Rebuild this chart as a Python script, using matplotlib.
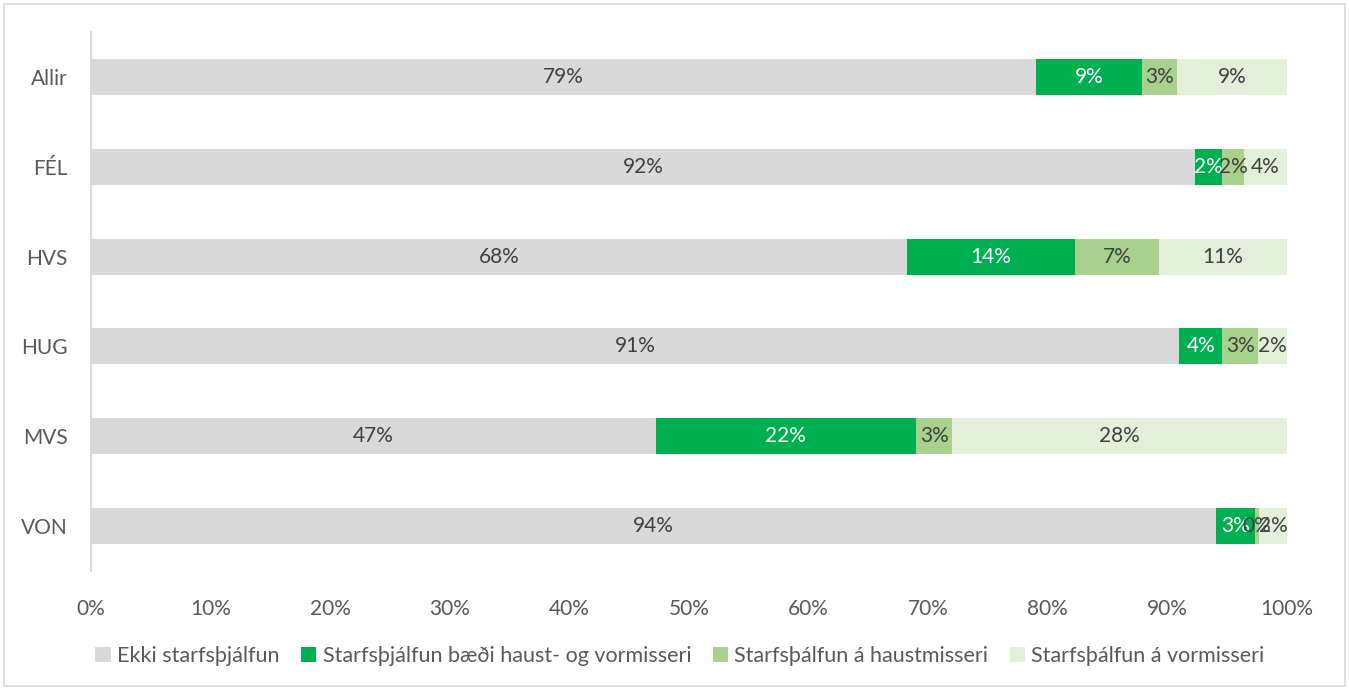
import numpy as np
import matplotlib.pyplot as plt
from matplotlib.patches import Rectangle

plt.rcParams['font.family'] = ['Lato', 'DejaVu Sans']

# data
categories = ['Allir', 'FÉL', 'HVS', 'HUG', 'MVS', 'VON']
series_names = ['Ekki starfsþjálfun',
                'Starfsþjálfun bæði haust- og vormisseri',
                'Starfsþálfun á haustmisseri',
                'Starfsþálfun á vormisseri']
ekki = [79.0, 92.3, 68.2, 91.0, 47.2, 94.1]
baedi = [8.9, 2.3, 14.1, 3.6, 21.8, 3.2]
haust = [2.9, 1.8, 7.0, 3.0, 3.0, 0.4]
vor = [9.2, 3.6, 10.7, 2.4, 28.0, 2.3]
x_ticks = [0, 10, 20, 30, 40, 50, 60, 70, 80, 90, 100]

colors = ['#D9D9D9', '#00B050', '#A9D18E', '#E2F0D9']
text_colors = ['#404040', 'white', '#404040', '#404040']

fig = plt.figure(figsize=(13.49, 6.90), dpi=100)
ax = fig.add_axes([91/1349, 1-571/690, (1287-91)/1349, (571-32)/690])

y = np.arange(len(categories))
left = np.zeros(len(categories))
for vals, name, c, tc in zip([ekki, baedi, haust, vor], series_names, colors, text_colors):
    vals = np.array(vals)
    ax.barh(y, vals, left=left, height=0.4, color=c, label=name)
    for yi, l, v in zip(y, left, vals):
        ax.text(l + v/2, yi, '{:.0f}%'.format(v), ha='center', va='center',
                fontsize=15, color=tc)
    left = left + vals

ax.set_ylim(len(categories)-0.5, -0.5)
ax.set_xlim(0, 100)
ax.set_yticks(y)
ax.set_yticklabels(categories)
ax.set_xticks(x_ticks)
ax.set_xticklabels(['{}%'.format(t) for t in x_ticks])
ax.tick_params(axis='both', length=0, labelsize=15, labelcolor='#595959')
ax.tick_params(axis='y', pad=17)
ax.tick_params(axis='x', pad=20)
for s in ['top', 'right', 'bottom']:
    ax.spines[s].set_visible(False)
ax.spines['left'].set_color('#D9D9D9')
ax.spines['left'].set_linewidth(1.5)

fig.legend(loc='center', bbox_to_anchor=(680/1349, 1-656/690), ncol=4,
           frameon=False, fontsize=15.5, handlelength=0.7, handleheight=0.7,
           handletextpad=0.3, columnspacing=1.0, labelcolor='#595959')

fig.patches.append(Rectangle((4/1349, 4/690), 1-8/1349, 1-8/690, transform=fig.transFigure,
                             fill=False, edgecolor='#D9D9D9', linewidth=1.2))

fig.savefig('out.png', dpi=100)
